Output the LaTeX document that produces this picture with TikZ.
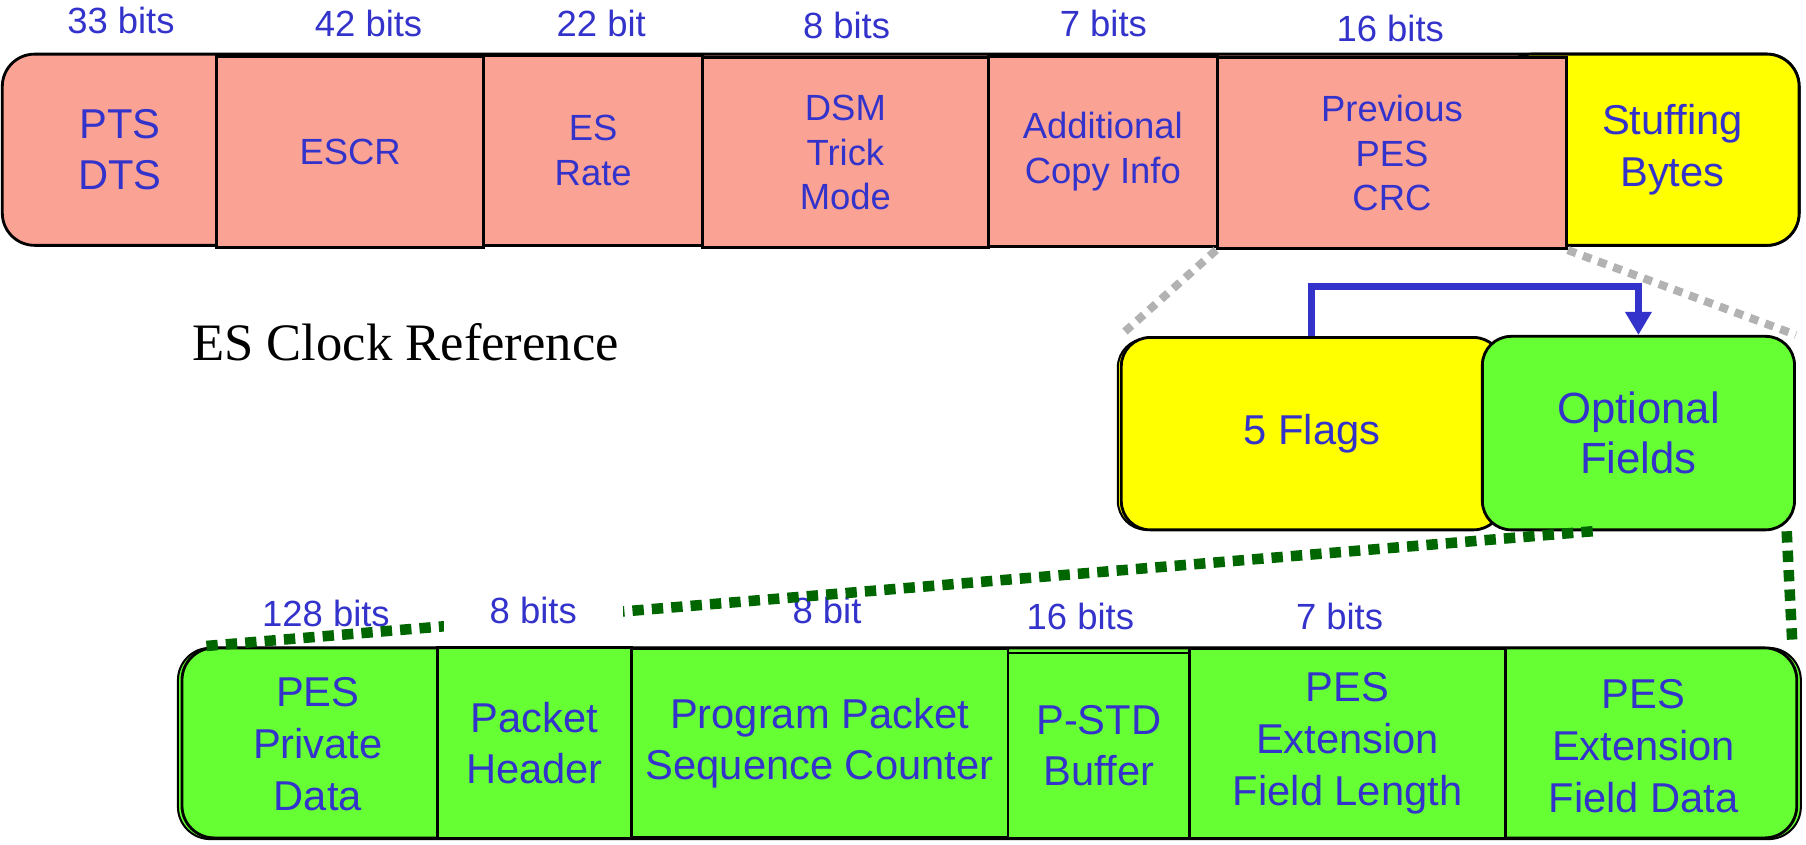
\documentclass[tikz,border=0pt]{standalone}
\usepackage{fontspec}
\setmainfont{Liberation Sans}
\newfontfamily\timesfont{Liberation Serif}
\usetikzlibrary{arrows.meta}
\definecolor{pesSalmon}{RGB}{250,163,148}
\definecolor{pesYellow}{RGB}{255,255,0}
\definecolor{pesGreen}{RGB}{102,255,51}
\definecolor{pesBlue}{RGB}{51,51,204}
\definecolor{zoomGray}{RGB}{178,178,178}
\definecolor{zoomGreen}{RGB}{0,102,0}

\begin{document}
\begin{tikzpicture}[
    field/.style={draw=black,line width=0.65pt,text=pesBlue,align=center,inner sep=0pt,font=\fontsize{9}{11}\selectfont},
    bigfield/.style={field,font=\fontsize{10.3}{12.6}\selectfont},
    endcap/.style={draw=black,line width=0.7pt,rounded corners=0.28cm,inner sep=0pt},
    pill/.style={endcap,rounded corners=0.25cm,text=pesBlue,align=center,font=\fontsize{10.3}{12.8}\selectfont},
    bits/.style={text=pesBlue,font=\fontsize{9}{11}\selectfont,inner sep=1pt},
    zoomline/.style={zoomGray,line width=2pt,dash pattern=on 2.2pt off 1.8pt},
    greenzoom/.style={zoomGreen,line width=2.6pt,dash pattern=on 2.8pt off 2pt}
]
\useasboundingbox (0,0) rectangle (15.68,-7.33);

% Top row
\node[endcap,fill=pesSalmon,minimum width=15.60cm,minimum height=1.66cm] (toprow) at (7.82,-1.30) {};
\node[endcap,fill=pesYellow,minimum width=2.60cm,minimum height=1.66cm] (stuffbg) at (14.32,-1.30) {};
\node[bigfield,draw=none] (pts) at (1.04,-1.30) {PTS\\DTS};
\node[field,fill=pesSalmon,minimum width=2.32cm,minimum height=1.66cm] (escr) at (3.04,-1.32) {ESCR};
\node[field,fill=pesSalmon,minimum width=1.90cm,minimum height=1.65cm] (esrate) at (5.15,-1.305) {ES\\Rate};
\node[field,fill=pesSalmon,minimum width=2.48cm,minimum height=1.65cm] (dsm) at (7.34,-1.325) {DSM\\Trick\\Mode};
\node[field,fill=pesSalmon,minimum width=1.99cm,minimum height=1.65cm] (copyinfo) at (9.575,-1.315) {Additional\\Copy Info};
\node[field,fill=pesSalmon,minimum width=3.03cm,minimum height=1.66cm] (crc) at (12.085,-1.33) {Previous\\PES\\CRC};
\node[bigfield,draw=none,font=\fontsize{10.3}{12.8}\selectfont] (stuff) at (14.52,-1.30) {Stuffing\\Bytes};

% Top bit counts
\node[bits] (b33) at (1.05,-0.18) {33 bits};
\node[bits] (b42) at (3.20,-0.20) {42 bits};
\node[bits] (b22) at (5.22,-0.20) {22 bit};
\node[bits] (b8top) at (7.35,-0.22) {8 bits};
\node[bits] (b7top) at (9.58,-0.20) {7 bits};
\node[bits] (b16top) at (12.07,-0.25) {16 bits};

\node[font=\timesfont\fontsize{13}{15}\selectfont] (escref) at (3.52,-2.97) {ES Clock Reference};

% Flags
\node[endcap,line width=0.5pt,rounded corners=0.25cm,fill=pesYellow,minimum width=3.31cm,minimum height=1.66cm] (flagsbg) at (11.36,-3.77) {};
\node[pill,fill=pesYellow,minimum width=3.31cm,minimum height=1.67cm] (flags) at (11.39,-3.765) {5 Flags};
\node[pill,fill=pesGreen,minimum width=2.71cm,minimum height=1.68cm,font=\fontsize{10.8}{12.4}\selectfont] (opt) at (14.225,-3.76) {Optional\\Fields};

% Bottom row
\node[endcap,line width=0.5pt,fill=pesGreen,minimum width=14.09cm,minimum height=1.66cm] (botshadow) at (8.59,-6.455) {};
\node[endcap,fill=pesGreen,minimum width=14.02cm,minimum height=1.65cm] (botrow) at (8.59,-6.45) {};
\node[bigfield,draw=none,font=\fontsize{10.3}{12.8}\selectfont] (ppd) at (2.76,-6.46) {PES\\Private\\Data};
\node[bigfield,fill=pesGreen,minimum width=1.68cm,minimum height=1.66cm] (ph) at (4.64,-6.45) {Packet\\Header};
\node[bigfield,fill=pesGreen,minimum width=3.27cm,minimum height=1.64cm] (ppsc) at (7.115,-6.45) {Program Packet\\Sequence Counter};
\node[bigfield,fill=pesGreen,minimum width=1.58cm,minimum height=1.61cm] (pstd) at (9.54,-6.475) {P-STD\\Buffer};
\node[bigfield,fill=pesGreen,minimum width=2.74cm,minimum height=1.65cm,font=\fontsize{10.3}{12.8}\selectfont] (pefl) at (11.70,-6.455) {PES\\Extension\\Field Length};
\node[bigfield,draw=none,font=\fontsize{10.3}{12.8}\selectfont] (pefd) at (14.27,-6.48) {PES\\Extension\\Field Data};

% Bottom bit counts
\node[bits] (b128) at (2.83,-5.33) {128 bits};
\node[bits] (b8bit) at (7.18,-5.30) {8 bit};
\node[bits] (b16bot) at (9.38,-5.35) {16 bits};
\node[bits] (b7bot) at (11.63,-5.35) {7 bits};

\draw[zoomline] (crc.south west) -- (flags.north west);
\draw[zoomline] (crc.south east) -- (opt.north east);
\draw[pesBlue,line width=1.7pt,-{Triangle[length=0.2cm,width=0.22cm]}] (flags.north) -- ++(0,0.43) -| (opt.north);
\draw[greenzoom] (opt.245) -- ([xshift=0.17cm]botrow.north west);
\draw[greenzoom] ([xshift=-0.08cm]opt.south east) -- ([xshift=-0.05cm]botrow.north east);

\node[bits,fill=white,minimum width=1.55cm,minimum height=0.40cm] (b8bits) at (4.63,-5.30) {8 bits};
\end{tikzpicture}
\end{document}
